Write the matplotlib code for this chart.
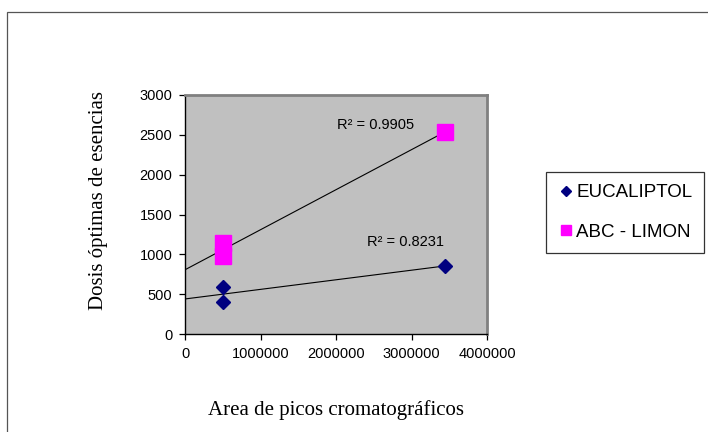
import matplotlib.pyplot as plt
import numpy as np
from matplotlib.patches import Rectangle
from matplotlib.lines import Line2D
from matplotlib.ticker import FuncFormatter

# peak areas and optimal doses for each essence
eucaliptol_area = [500000, 500000, 3450000]
eucaliptol_dosis = [595, 405, 855]
limon_area = [500000, 500000, 3450000]
limon_dosis = [1140, 975, 2540]
r2_labels = ['R² = 0.8231', 'R² = 0.9905']

W, H = 708, 432
fig = plt.figure(figsize=(W / 100, H / 100), dpi=100)
fig.patch.set_facecolor('white')

# outer chart frame
fig.patches.append(Rectangle((7 / W, -0.1), 1.2, (H - 12) / H + 0.1,
                             transform=fig.transFigure, fill=False,
                             edgecolor='#555555', linewidth=0.9))

ax = fig.add_axes([185 / W, 1 - 334 / H, 302 / W, 239 / H])
ax.set_facecolor('#C0C0C0')

ax.plot(eucaliptol_area, eucaliptol_dosis, linestyle='none', marker='D',
        markersize=7, color='#000080', zorder=3)
ax.plot(limon_area, limon_dosis, linestyle='none', marker='s',
        markersize=11, color='#FF00FF', zorder=3)

# linear trendlines from the origin to the largest area
for xs, ys in [(eucaliptol_area, eucaliptol_dosis), (limon_area, limon_dosis)]:
    m, b = np.polyfit(xs, ys, 1)
    xx = np.array([0, max(xs)])
    ax.plot(xx, m * xx + b, color='black', linewidth=0.8, zorder=2)

ax.text(2.41e6, 1158, r2_labels[0], fontsize=10.5, family='Liberation Sans',
        va='center', ha='left')
ax.text(2.01e6, 2622, r2_labels[1], fontsize=10.5, family='Liberation Sans',
        va='center', ha='left')

ax.set_xlim(0, 4000000)
ax.set_ylim(0, 3000)
ax.set_xticks([0, 1000000, 2000000, 3000000, 4000000])
ax.set_yticks(range(0, 3001, 500))
fmt = FuncFormatter(lambda v, p: '%d' % v)
ax.xaxis.set_major_formatter(fmt)
ax.yaxis.set_major_formatter(fmt)
ax.tick_params(direction='out', length=4, width=0.9, color='black',
               labelsize=10.5, pad=5)
for lbl in ax.get_xticklabels() + ax.get_yticklabels():
    lbl.set_family('Liberation Sans')

for side in ['top', 'right']:
    ax.spines[side].set_color('#808080')
    ax.spines[side].set_linewidth(2)
for side in ['left', 'bottom']:
    ax.spines[side].set_color('black')
    ax.spines[side].set_linewidth(1)

fig.text(336 / W, 1 - 410 / H, 'Area de picos cromatográficos',
         family='Liberation Serif', fontsize=15, ha='center', va='center')
fig.text(98 / W, 1 - 201 / H, 'Dosis óptimas de esencias',
         family='Liberation Serif', fontsize=15, ha='center', va='center',
         rotation=90)

handles = [
    Line2D([], [], linestyle='none', marker='D', markersize=7,
           color='#000080'),
    Line2D([], [], linestyle='none', marker='s', markersize=11,
           color='#FF00FF'),
]
leg = fig.legend(handles, ['EUCALIPTOL', 'ABC - LIMON'], loc='upper left',
                 bbox_to_anchor=(546 / W, 1 - 172 / H), frameon=True,
                 fancybox=False, edgecolor='black', markerscale=0.7,
                 prop={'family': 'Liberation Sans', 'size': 13.5},
                 handlelength=0.85, handletextpad=0.1, borderpad=0.65,
                 labelspacing=1.2, borderaxespad=0)
leg.get_frame().set_linewidth(0.9)

fig.savefig('out.png', dpi=100)
